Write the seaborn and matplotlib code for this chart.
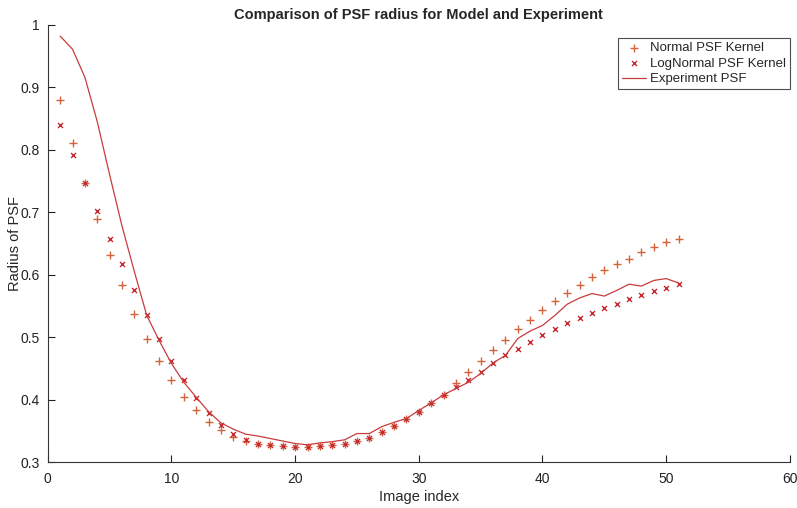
import numpy as np
import pandas as pd
import matplotlib
matplotlib.use("Agg")
import matplotlib.pyplot as plt
import seaborn as sns

image_index = list(range(1, 52))

normal_psf = [0.879, 0.811, 0.747, 0.689, 0.632, 0.583, 0.538, 0.497, 0.462, 0.431,
              0.404, 0.383, 0.364, 0.351, 0.341, 0.334, 0.330, 0.327, 0.326, 0.325,
              0.325, 0.326, 0.328, 0.330, 0.334, 0.339, 0.349, 0.358, 0.369, 0.381,
              0.395, 0.408, 0.427, 0.444, 0.462, 0.479, 0.496, 0.513, 0.528, 0.544,
              0.558, 0.571, 0.583, 0.596, 0.607, 0.617, 0.626, 0.636, 0.644, 0.652,
              0.658]

lognormal_psf = [0.839, 0.791, 0.747, 0.702, 0.658, 0.617, 0.576, 0.536, 0.498, 0.462,
                 0.431, 0.403, 0.379, 0.360, 0.346, 0.335, 0.330, 0.327, 0.326, 0.325,
                 0.325, 0.326, 0.327, 0.330, 0.334, 0.339, 0.348, 0.358, 0.369, 0.381,
                 0.395, 0.408, 0.420, 0.432, 0.444, 0.459, 0.471, 0.482, 0.493, 0.503,
                 0.514, 0.523, 0.531, 0.539, 0.547, 0.554, 0.561, 0.568, 0.574, 0.579,
                 0.585]

experiment_psf = [0.982, 0.961, 0.916, 0.845, 0.760, 0.678, 0.605, 0.535, 0.495, 0.458,
                  0.428, 0.404, 0.381, 0.363, 0.353, 0.345, 0.342, 0.338, 0.334, 0.330,
                  0.328, 0.331, 0.333, 0.336, 0.346, 0.346, 0.357, 0.364, 0.370, 0.383,
                  0.395, 0.408, 0.418, 0.428, 0.442, 0.459, 0.471, 0.498, 0.510, 0.519,
                  0.535, 0.553, 0.563, 0.570, 0.566, 0.575, 0.585, 0.582, 0.591, 0.594,
                  0.587]

x_ticks = [0, 10, 20, 30, 40, 50, 60]
y_ticks = [0.3, 0.4, 0.5, 0.6, 0.7, 0.8, 0.9, 1.0]
y_tick_labels = ["0.3", "0.4", "0.5", "0.6", "0.7", "0.8", "0.9", "1"]

sns.set_style("white")
plt.rcParams['font.family'] = ['Liberation Sans', 'DejaVu Sans']

df = pd.DataFrame({"x": image_index, "normal": normal_psf,
                   "lognormal": lognormal_psf, "experiment": experiment_psf})

fig = plt.figure(figsize=(7.97, 5.08), dpi=100)
ax = fig.add_axes([0.060, 0.090, 0.931, 0.861])

sns.scatterplot(data=df, x="x", y="normal", ax=ax, marker="+", s=28,
                color="#d2643c", linewidth=1.0, label="Normal PSF Kernel")
sns.scatterplot(data=df, x="x", y="lognormal", ax=ax, marker="x", s=13,
                color="#c42a30", linewidth=1.0, label="LogNormal PSF Kernel")
sns.lineplot(data=df, x="x", y="experiment", ax=ax, color="#c83c3c",
             linewidth=0.9, label="Experiment PSF")

ax.set_xlim(0, 60)
ax.set_ylim(0.3, 1.0)
ax.set_xticks(x_ticks)
ax.set_xticklabels([str(t) for t in x_ticks])
ax.set_yticks(y_ticks)
ax.set_yticklabels(y_tick_labels)
ax.tick_params(direction="in", length=5, width=0.8, labelsize=10,
               left=True, bottom=True, colors="#222222")
ax.tick_params(axis="x", pad=7)
ax.tick_params(axis="y", pad=6)
for side in ["top", "right"]:
    ax.spines[side].set_visible(False)
for side in ["left", "bottom"]:
    ax.spines[side].set_color("#333333")
    ax.spines[side].set_linewidth(0.8)

ax.set_xlabel("Image index", fontsize=10.5, labelpad=3)
ax.set_ylabel("Radius of PSF", fontsize=10.5, labelpad=-1)
ax.set_title("Comparison of PSF radius for Model and Experiment",
             fontsize=10.5, fontweight="bold", pad=4)

leg = ax.legend(loc="upper right", bbox_to_anchor=(1.0, 0.97), fontsize=9.5,
                frameon=True, fancybox=False, handlelength=1.8,
                handletextpad=0.3, borderpad=0.3, labelspacing=0.25,
                borderaxespad=0.0)
leg.get_frame().set_edgecolor("#222222")
leg.get_frame().set_linewidth(0.8)

fig.savefig("out.png", dpi=100)
